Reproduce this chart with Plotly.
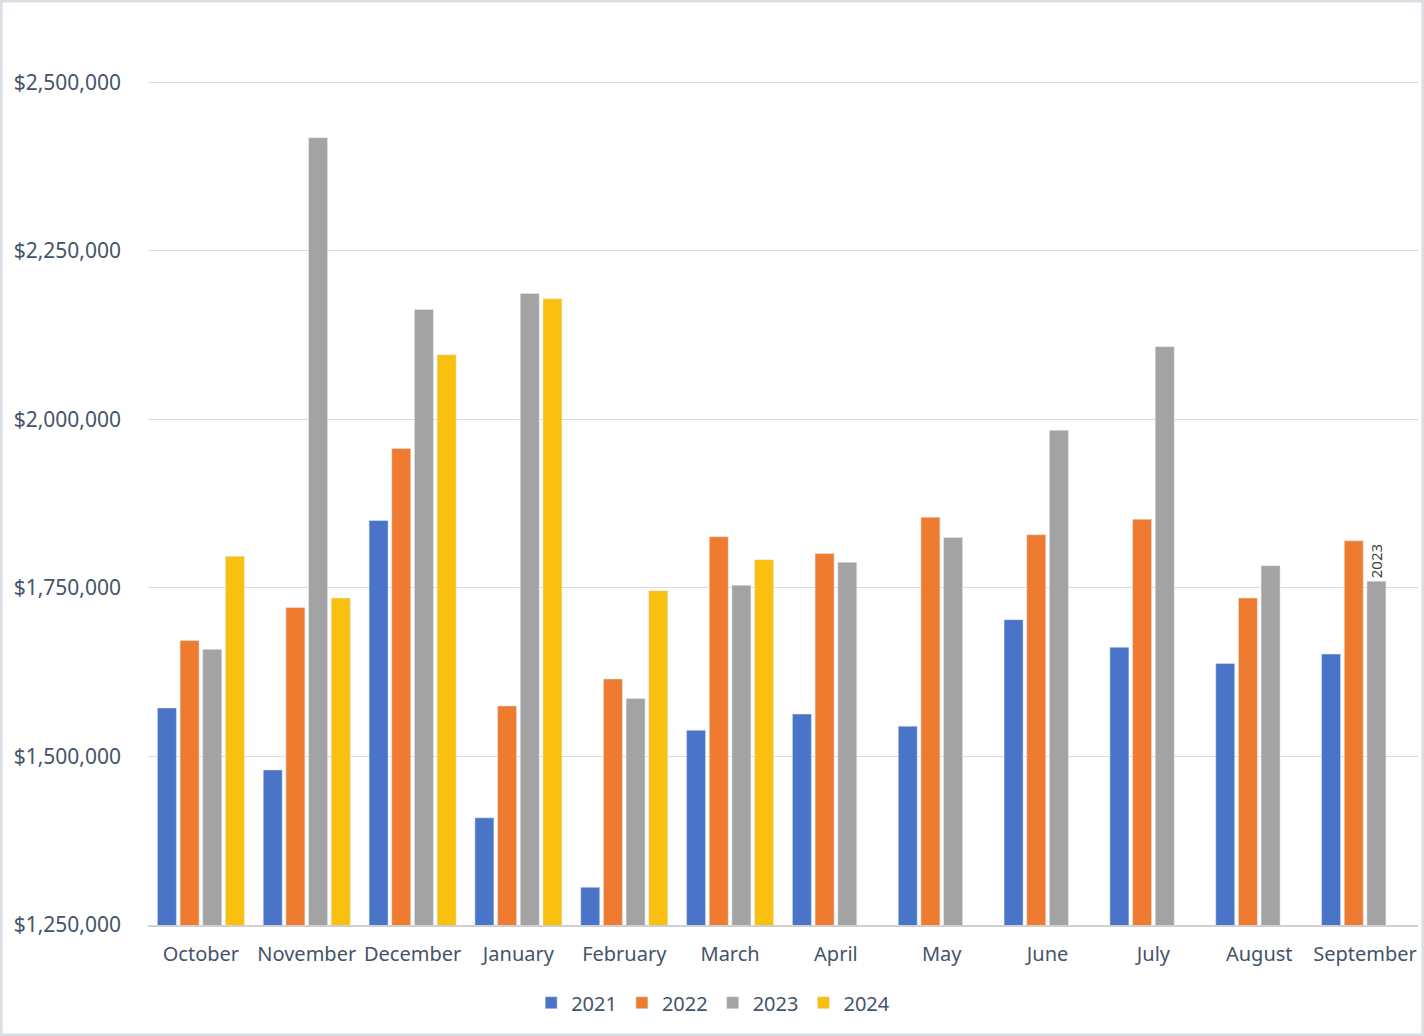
import plotly.graph_objects as go

months = ["October", "November", "December", "January", "February", "March",
          "April", "May", "June", "July", "August", "September"]
v2021 = [1572000, 1480000, 1850000, 1409000, 1306000, 1539000, 1563000, 1545000, 1703000, 1662000, 1638000, 1652000]
v2022 = [1672000, 1721000, 1957000, 1575000, 1615000, 1826000, 1801000, 1855000, 1829000, 1852000, 1735000, 1820000]
v2023 = [1659000, 2418000, 2163000, 2187000, 1586000, 1754000, 1788000, 1825000, 1984000, 2108000, 1783000, 1760000]
v2024 = [1797000, 1735000, 2096000, 2179000, 1746000, 1792000, None, None, None, None, None, None]
labels2023 = ["", "", "", "", "", "", "", "", "", "", "", "2023"]
tick_vals = [1250000, 1500000, 1750000, 2000000, 2250000, 2500000]
tick_text = ["$1,250,000", "$1,500,000", "$1,750,000", "$2,000,000", "$2,250,000", "$2,500,000"]

txt = "#44546A"
font = "Noto Sans, Open Sans, sans-serif"

fig = go.Figure()
fig.add_bar(name="2021", x=months, y=v2021, marker_color="#4A74C8")
fig.add_bar(name="2022", x=months, y=v2022, marker_color="#EE7B30")
fig.add_bar(name="2023", x=months, y=v2023, marker_color="#A3A3A3",
            text=labels2023, textposition="outside", textangle=-90, constraintext="none",
            textfont=dict(size=15, color="#404040", family=font), cliponaxis=False)
fig.add_bar(name="2024", x=months, y=v2024, marker_color="#F9C00F")

fig.update_layout(
    width=1424, height=1036,
    paper_bgcolor="white", plot_bgcolor="white",
    margin=dict(l=148, r=6, t=15, b=111, autoexpand=False),
    barmode="group", bargap=0.143, bargroupgap=0.162,
    font=dict(family=font, size=20, color=txt),
    showlegend=True,
    legend=dict(orientation="h", x=0.445, xanchor="center", y=-0.064, yanchor="top",
                font=dict(size=20, color=txt), itemwidth=30, traceorder="normal"),
    xaxis=dict(showgrid=False, showline=True, linecolor="#D0D0D0", linewidth=1.5,
               ticks="", ticklabelstandoff=10, tickangle=0, tickfont=dict(size=20, color=txt)),
    yaxis=dict(range=[1250000, 2600000], tickvals=tick_vals, ticktext=tick_text,
               showgrid=True, gridcolor="#DCDCDC", gridwidth=1.2, zeroline=False,
               ticks="", ticklabelstandoff=26, tickfont=dict(size=21, color=txt)),
    shapes=[dict(type="rect", xref="paper", yref="paper", x0=-147/1270, x1=1+5/1270,
                 y0=-110/910, y1=1+14/910, line=dict(color="#D9DDE6", width=3))],
)
fig.write_html("out.html", config={"displayModeBar": False},
               post_script="document.body.style.margin='0';document.body.style.overflow='hidden';")
